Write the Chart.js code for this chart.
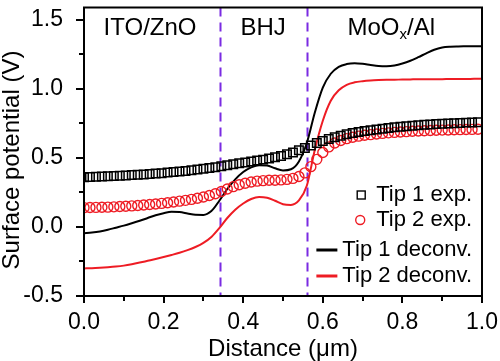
<!DOCTYPE html>
<html>
<head>
<meta charset="utf-8">
<script src="https://cdn.jsdelivr.net/npm/chart.js@4"></script>
<style>
  body { margin: 0; background: #fff; }
</style>
</head>
<body>
<canvas id="myChart" width="500" height="361"></canvas>
<script>
const colorBlack = '#000000';
const colorRed = '#ee1c24';
const colorPurple = '#7a2be2';
const fontFamily = '"Liberation Sans", Arial, sans-serif';

// measured points (markers)
const expX = [0, 0.015, 0.03, 0.045, 0.06, 0.075, 0.09, 0.105, 0.12, 0.135, 0.15, 0.165, 0.18, 0.195,
  0.21, 0.225, 0.24, 0.255, 0.27, 0.285, 0.3, 0.315, 0.33, 0.345, 0.36, 0.375, 0.39, 0.405, 0.42, 0.435,
  0.45, 0.465, 0.48, 0.495, 0.51, 0.525, 0.54, 0.555, 0.57, 0.585, 0.6, 0.615, 0.63, 0.645, 0.66, 0.675,
  0.69, 0.705, 0.72, 0.735, 0.75, 0.765, 0.78, 0.795, 0.81, 0.825, 0.84, 0.855, 0.87, 0.885, 0.9, 0.915,
  0.93, 0.945, 0.96, 0.975, 0.99];
const tip1Exp = [0.360, 0.362, 0.364, 0.365, 0.367, 0.369, 0.371, 0.373, 0.376, 0.378, 0.381, 0.384, 0.387, 0.390,
  0.394, 0.398, 0.402, 0.406, 0.411, 0.416, 0.421, 0.427, 0.433, 0.440, 0.447, 0.454, 0.461, 0.467, 0.474, 0.481,
  0.488, 0.496, 0.505, 0.515, 0.527, 0.540, 0.556, 0.573, 0.591, 0.608, 0.623, 0.637, 0.650, 0.661, 0.671, 0.680,
  0.688, 0.695, 0.701, 0.707, 0.712, 0.717, 0.722, 0.726, 0.730, 0.734, 0.737, 0.740, 0.743, 0.746, 0.748, 0.750,
  0.752, 0.754, 0.756, 0.757, 0.758];
const tip2Exp = [0.140, 0.141, 0.142, 0.143, 0.144, 0.146, 0.148, 0.150, 0.153, 0.156, 0.159, 0.163, 0.167, 0.171,
  0.176, 0.181, 0.187, 0.193, 0.200, 0.208, 0.217, 0.228, 0.241, 0.257, 0.275, 0.292, 0.306, 0.317, 0.326, 0.332,
  0.336, 0.338, 0.339, 0.341, 0.345, 0.352, 0.366, 0.392, 0.437, 0.490, 0.540, 0.580, 0.608, 0.627, 0.640, 0.650,
  0.658, 0.664, 0.669, 0.674, 0.678, 0.682, 0.685, 0.688, 0.691, 0.693, 0.695, 0.697, 0.699, 0.701, 0.702, 0.703,
  0.704, 0.705, 0.706, 0.707, 0.708];

// deconvolved curves
const decX = [0, 0.02, 0.04, 0.06, 0.08, 0.1, 0.12, 0.14, 0.16, 0.18, 0.2, 0.22, 0.24, 0.26, 0.28, 0.3, 0.32,
  0.34, 0.36, 0.38, 0.4, 0.42, 0.44, 0.46, 0.48, 0.5, 0.52, 0.54, 0.56, 0.58, 0.6, 0.62, 0.64, 0.66, 0.68,
  0.7, 0.72, 0.74, 0.76, 0.78, 0.8, 0.82, 0.84, 0.86, 0.88, 0.9, 0.92, 0.94, 0.96, 0.98, 1.0];
const tip1Dec = [-0.045, -0.040, -0.032, -0.020, -0.005, 0.010, 0.027, 0.045, 0.065, 0.085, 0.100, 0.110, 0.108,
  0.098, 0.088, 0.087, 0.115, 0.190, 0.275, 0.345, 0.398, 0.432, 0.448, 0.446, 0.425, 0.410, 0.418, 0.475, 0.610,
  0.830, 1.010, 1.110, 1.160, 1.180, 1.186, 1.182, 1.174, 1.167, 1.165, 1.170, 1.184, 1.204, 1.230, 1.258, 1.284,
  1.300, 1.306, 1.308, 1.309, 1.310, 1.310];
const tip2Dec = [-0.300, -0.299, -0.296, -0.292, -0.287, -0.280, -0.270, -0.258, -0.245, -0.232, -0.218, -0.203,
  -0.187, -0.168, -0.145, -0.115, -0.072, -0.008, 0.065, 0.125, 0.170, 0.203, 0.218, 0.212, 0.190, 0.165, 0.160,
  0.192, 0.300, 0.560, 0.770, 0.915, 0.990, 1.030, 1.048, 1.056, 1.061, 1.064, 1.066, 1.067, 1.068, 1.069, 1.070,
  1.070, 1.071, 1.071, 1.072, 1.072, 1.072, 1.073, 1.073];

const xTicks = [0, 0.2, 0.4, 0.6, 0.8, 1.0];
const xMinor = [0.1, 0.3, 0.5, 0.7, 0.9];
const yTicks = [-0.5, 0, 0.5, 1.0, 1.5];
const yMinor = [-0.25, 0.25, 0.75, 1.25];

// layer boundaries and labels
const boundaries = [0.341, 0.56];
const regionLabels = [
  { x: 0.166, y: 1.44, parts: [['ITO/ZnO', false]] },
  { x: 0.45, y: 1.44, parts: [['BHJ', false]] },
  { x: 0.772, y: 1.44, parts: [['MoO', false], ['x', true], ['/Al', false]] },
];

const legendItems = [
  { label: 'Tip 1 exp.', kind: 'rect', color: colorBlack },
  { label: 'Tip 2 exp.', kind: 'circle', color: colorRed },
  { label: 'Tip 1 deconv.', kind: 'line', color: colorBlack },
  { label: 'Tip 2 deconv.', kind: 'line', color: colorRed },
];

const pts = (xs, ys) => xs.map((x, i) => ({ x: x, y: ys[i] }));

const decorations = {
  id: 'decorations',
  beforeDatasetsDraw(chart) {
    const { ctx, chartArea, scales } = chart;
    ctx.save();
    ctx.strokeStyle = colorPurple;
    ctx.lineWidth = 2;
    ctx.setLineDash([9, 6]);
    boundaries.forEach(b => {
      const px = Math.round(scales.x.getPixelForValue(b)) + 0.5;
      ctx.beginPath();
      ctx.moveTo(px, chartArea.top);
      ctx.lineTo(px, chartArea.bottom);
      ctx.stroke();
    });
    ctx.restore();
  },
  afterDatasetsDraw(chart) {
    const { ctx, chartArea, scales } = chart;
    ctx.save();
    // frame
    ctx.strokeStyle = '#000';
    ctx.lineWidth = 2;
    ctx.strokeRect(chartArea.left, chartArea.top, chartArea.right - chartArea.left, chartArea.bottom - chartArea.top);
    // ticks
    ctx.beginPath();
    xTicks.concat(xMinor).forEach(v => {
      const px = Math.round(scales.x.getPixelForValue(v));
      const len = xTicks.includes(v) ? 7 : 5;
      ctx.moveTo(px, chartArea.bottom);
      ctx.lineTo(px, chartArea.bottom + len);
    });
    yTicks.concat(yMinor).forEach(v => {
      const py = Math.round(scales.y.getPixelForValue(v));
      const len = yTicks.includes(v) ? 8 : 5;
      ctx.moveTo(chartArea.left, py);
      ctx.lineTo(chartArea.left - len, py);
    });
    ctx.stroke();

    // region labels
    ctx.fillStyle = '#000';
    ctx.textBaseline = 'middle';
    ctx.textAlign = 'left';
    const big = '24px ' + fontFamily;
    const small = '15px ' + fontFamily;
    regionLabels.forEach(r => {
      let w = 0;
      r.parts.forEach(([t, sub]) => { ctx.font = sub ? small : big; w += ctx.measureText(t).width; });
      let px = scales.x.getPixelForValue(r.x) - w / 2;
      const py = scales.y.getPixelForValue(r.y);
      r.parts.forEach(([t, sub]) => {
        ctx.font = sub ? small : big;
        ctx.fillText(t, px, sub ? py + 7 : py);
        px += ctx.measureText(t).width;
      });
    });

    // y axis title
    ctx.save();
    ctx.translate(12, 160);
    ctx.rotate(-Math.PI / 2);
    ctx.font = '24px ' + fontFamily;
    ctx.textAlign = 'center';
    ctx.fillText('Surface potential (V)', 0, 0);
    ctx.restore();

    // legend
    ctx.font = '22px ' + fontFamily;
    ctx.textAlign = 'left';
    const right = chartArea.right - 10;
    const rows = [101, 76, 46, 20];
    legendItems.forEach((item, i) => {
      const w = ctx.measureText(item.label).width;
      const tx = right - w;
      const ty = chartArea.bottom - rows[i];
      ctx.fillStyle = '#000';
      ctx.fillText(item.label, tx, ty);
      ctx.strokeStyle = item.color;
      if (item.kind === 'rect') {
        ctx.lineWidth = 1.4;
        ctx.strokeRect(tx - 19, ty - 4, 8, 8);
      } else if (item.kind === 'circle') {
        ctx.lineWidth = 1.4;
        ctx.beginPath();
        ctx.arc(tx - 16, ty, 4.5, 0, Math.PI * 2);
        ctx.stroke();
      } else {
        ctx.lineWidth = 3;
        ctx.beginPath();
        ctx.moveTo(tx - 26, ty);
        ctx.lineTo(tx - 5, ty);
        ctx.stroke();
      }
    });
    ctx.restore();
  }
};

const ctx = document.getElementById('myChart');
new Chart(ctx, {
  type: 'line',
  data: {
    datasets: [
      {
        label: 'Tip 1 exp.',
        data: pts(expX, tip1Exp),
        showLine: false,
        pointStyle: 'rect',
        pointRadius: 6,
        pointBorderWidth: 1.5,
        borderColor: colorBlack,
        backgroundColor: 'rgba(0,0,0,0)',
      },
      {
        label: 'Tip 2 exp.',
        data: pts(expX, tip2Exp),
        showLine: false,
        pointStyle: 'circle',
        pointRadius: 5,
        pointBorderWidth: 1.4,
        borderColor: colorRed,
        backgroundColor: 'rgba(0,0,0,0)',
      },
      {
        label: 'Tip 1 deconv.',
        data: pts(decX, tip1Dec),
        borderColor: colorBlack,
        borderWidth: 2,
        pointRadius: 0,
        cubicInterpolationMode: 'monotone',
      },
      {
        label: 'Tip 2 deconv.',
        data: pts(decX, tip2Dec),
        borderColor: colorRed,
        borderWidth: 2,
        pointRadius: 0,
        cubicInterpolationMode: 'monotone',
      }
    ]
  },
  options: {
    responsive: false,
    devicePixelRatio: 1,
    animation: false,
    layout: { padding: { top: 4, right: 18, left: 0, bottom: 0 } },
    plugins: {
      legend: { display: false },
      tooltip: { enabled: false },
    },
    scales: {
      x: {
        type: 'linear',
        min: 0,
        max: 1,
        afterBuildTicks: s => { s.ticks = xTicks.map(v => ({ value: v })); },
        afterFit: s => { s.height = 65; s.paddingLeft = 0; s.paddingRight = 0; },
        grid: { display: false, drawTicks: false },
        border: { display: false },
        ticks: {
          color: '#000',
          padding: 13,
          maxRotation: 0,
          font: { family: fontFamily, size: 23 },
          callback: v => v.toFixed(1),
        },
        title: {
          display: true,
          text: 'Distance (μm)',
          color: '#000',
          padding: 0,
          font: { family: fontFamily, size: 24, lineHeight: 1 },
        }
      },
      y: {
        type: 'linear',
        min: -0.5,
        max: 1.59,
        afterBuildTicks: s => { s.ticks = yTicks.map(v => ({ value: v })); },
        afterFit: s => { s.width = 84; s.paddingTop = 0; s.paddingBottom = 0; },
        grid: { display: false, drawTicks: false },
        border: { display: false },
        ticks: {
          color: '#000',
          padding: 21,
          font: { family: fontFamily, size: 23 },
          callback: v => v.toFixed(1),
        }
      }
    }
  },
  plugins: [decorations]
});
</script>
</body>
</html>
